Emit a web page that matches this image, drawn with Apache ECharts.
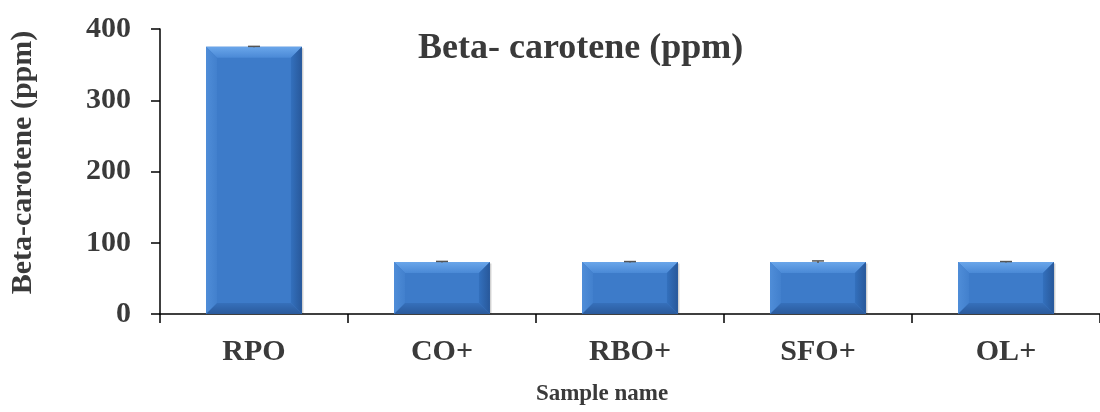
<!DOCTYPE html>
<html>
<head>
<meta charset="utf-8">
<script src="https://cdn.jsdelivr.net/npm/echarts@6/dist/echarts.min.js"></script>
<style>html,body{margin:0;padding:0;background:#fff}#c{width:1100px;height:412px}</style>
</head>
<body>
<div id="c"></div>
<script>
const categories = ['RPO', 'CO+', 'RBO+', 'SFO+', 'OL+'];
const values = [375, 73, 73, 73, 73];
const errors = [0.6, 0.8, 0.6, 1.5, 0.6];
const yTicks = [0, 100, 200, 300, 400];

const chart = echarts.init(document.getElementById('c'));
const serif = '"Liberation Serif", "Times New Roman", serif';
const txt = '#3a3a3a';
const LG = echarts.graphic.LinearGradient;

function bevelBar(params, api) {
  const i = api.value(0), v = api.value(1);
  const top = api.coord([i, v]);
  const base = api.coord([i, 0]);
  const w = api.size([1, 0])[0] * 0.51;
  const x0 = top[0] - w / 2, x1 = top[0] + w / 2;
  const y0 = top[1], y1 = base[1];
  const b = Math.min(11, (y1 - y0) / 3);
  return {
    type: 'group',
    children: [
      { type: 'rect', shape: { x: x0 + 1.5, y: y0 + 1.5, width: w, height: y1 - y0 - 1.5 },
        style: { fill: 'rgba(0,0,0,0.18)' } },
      { type: 'rect', shape: { x: x0, y: y0, width: w, height: y1 - y0 },
        style: { fill: '#3d7bc9' } },
      // top bevel
      { type: 'polygon', shape: { points: [[x0, y0], [x1, y0], [x1 - b, y0 + b], [x0 + b, y0 + b]] },
        style: { fill: new LG(0, 0, 0, 1, [{ offset: 0, color: '#6aa6ea' }, { offset: 1, color: '#4a89d6' }]) } },
      // left bevel
      { type: 'polygon', shape: { points: [[x0, y0], [x0 + b, y0 + b], [x0 + b, y1 - b], [x0, y1]] },
        style: { fill: new LG(0, 0, 1, 0, [{ offset: 0, color: '#4f8dd8' }, { offset: 1, color: '#4280cd' }]) } },
      // right bevel
      { type: 'polygon', shape: { points: [[x1, y0], [x1 - b, y0 + b], [x1 - b, y1 - b], [x1, y1]] },
        style: { fill: new LG(0, 0, 1, 0, [{ offset: 0, color: '#3370bd' }, { offset: 1, color: '#28589a' }]) } },
      // bottom bevel
      { type: 'polygon', shape: { points: [[x0, y1], [x0 + b, y1 - b], [x1 - b, y1 - b], [x1, y1]] },
        style: { fill: new LG(0, 0, 0, 1, [{ offset: 0, color: '#3670bb' }, { offset: 1, color: '#2a5a9c' }]) } }
    ]
  };
}

chart.setOption({
  animation: false,
  title: {
    text: 'Beta- carotene (ppm)',
    left: 413, top: 26,
    textStyle: { fontFamily: serif, fontWeight: 'bold', fontSize: 36, color: txt }
  },
  grid: { left: 157, top: 29, right: -7, bottom: 98 },
  xAxis: {
    type: 'category',
    data: categories,
    name: 'Sample name',
    nameLocation: 'middle',
    nameGap: 69,
    nameTextStyle: { fontFamily: serif, fontWeight: 'bold', fontSize: 23, color: txt, padding: [0, 56, 0, 0] },
    axisLine: { lineStyle: { color: '#000', width: 1.5 } },
    axisTick: { show: true, length: 9, lineStyle: { color: '#000', width: 1.5 } },
    axisLabel: { fontFamily: serif, fontWeight: 'bold', fontSize: 30, color: txt, margin: 23 }
  },
  yAxis: {
    type: 'value',
    min: yTicks[0], max: yTicks[yTicks.length - 1], interval: 100,
    name: 'Beta-carotene (ppm)',
    nameLocation: 'middle',
    nameGap: 122,
    nameTextStyle: { fontFamily: serif, fontWeight: 'bold', fontSize: 30, color: txt, padding: [0, 0, 0, 18] },
    splitLine: { show: false },
    axisLine: { show: true, lineStyle: { color: '#000', width: 1.5 } },
    axisTick: { show: true, length: 9, lineStyle: { color: '#000', width: 1.5 } },
    axisLabel: { fontFamily: serif, fontWeight: 'bold', fontSize: 30, color: txt, margin: 29 }
  },
  series: [
    {
      type: 'custom',
      data: values.map((v, i) => [i, v]),
      renderItem: bevelBar,
      encode: { x: 0, y: 1 },
      z: 2
    },
    {
      type: 'custom',
      data: values.map((v, i) => [i, v, errors[i]]),
      renderItem: function (params, api) {
        const i = api.value(0), v = api.value(1), e = api.value(2);
        const hi = api.coord([i, v + e]);
        const lo = api.coord([i, v - e]);
        const w = 6;
        return {
          type: 'group',
          children: [
            { type: 'line', shape: { x1: hi[0], y1: hi[1], x2: hi[0], y2: lo[1] }, style: { stroke: '#555', lineWidth: 1.5 } },
            { type: 'line', shape: { x1: hi[0] - w, y1: hi[1], x2: hi[0] + w, y2: hi[1] }, style: { stroke: '#555', lineWidth: 1.5 } }
          ]
        };
      },
      encode: { x: 0, y: 1 },
      z: 5
    }
  ]
});
</script>
</body>
</html>
